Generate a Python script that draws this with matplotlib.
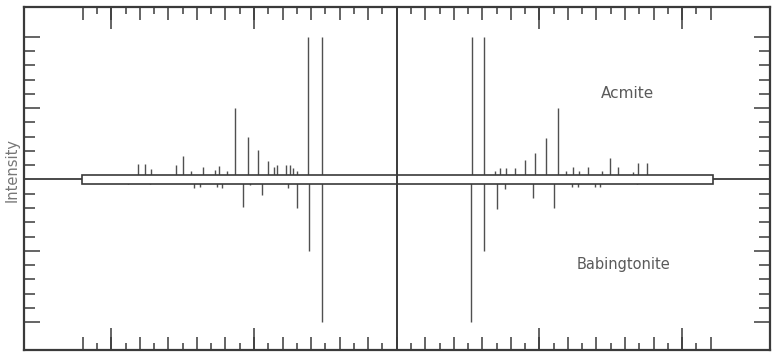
import numpy as np
import matplotlib
matplotlib.use('Agg')
import matplotlib.pyplot as plt
from matplotlib.patches import Rectangle

# Peak positions (film units from the centre line) and intensities
# Acmite lines point up, Babingtonite lines point down
acmiteLeftPos = [-18.15, -17.64, -17.22, -15.47, -14.95, -14.44, -13.55, -12.73, -12.45, -11.91,
                 -11.30, -10.42, -9.70, -9.04, -8.60, -8.41, -7.78, -7.48, -7.25, -7.01, -6.19, -5.21]
acmiteLeftInt = [1.1, 1.1, 0.75, 1.0, 1.65, 0.6, 0.9, 0.7, 0.95, 0.6,
                 5.0, 3.0, 2.05, 1.3, 0.9, 1.0, 1.0, 1.0, 0.8, 0.6, 10.0, 10.0]
acmiteRightPos = [5.28, 6.10, 6.87, 7.26, 7.68, 8.31, 8.97, 9.71, 10.46, 11.28,
                  11.86, 12.35, 12.75, 13.38, 14.39, 14.97, 15.49, 16.54, 16.91, 17.54]
acmiteRightInt = [10.0, 10.0, 0.6, 0.8, 0.8, 0.8, 1.35, 1.85, 2.9, 5.0,
                  0.6, 0.9, 0.6, 0.85, 0.6, 1.5, 0.85, 0.55, 1.15, 1.15]

babingLeftPos = [-18.81, -17.29, -14.20, -13.78, -12.61, -12.26, -10.79, -10.28, -9.42, -7.60, -7.01, -6.17, -5.21]
babingLeftInt = [0.3, 0.3, 0.6, 0.5, 0.5, 0.6, 1.95, 0.4, 1.1, 0.6, 2.0, 5.0, 10.0]
babingRightPos = [5.23, 6.10, 7.03, 7.57, 9.53, 11.00, 12.28, 12.71, 13.88, 14.27, 16.84]
babingRightInt = [10.0, 5.0, 2.1, 0.7, 1.3, 2.0, 0.5, 0.5, 0.5, 0.55, 0.3]

# Film strip and scale ticks
stripStart, stripEnd = -22.05, 22.17
xTickRange = (-22, 22)
yTickRange = (-10, 10)

lineColor = '#3a3a3a'
peakColor = '#505050'
textColor = '#5a5a5a'

fig = plt.figure(figsize=(7.73, 3.52), dpi=100)
ax = fig.add_axes([24 / 773, 2 / 352, 746 / 773, 343 / 352])
ax.set_xlim(-26.12, 26.16)
ax.set_ylim(-11.95, 12.09)

# Baseline and the film strip laid over it
ax.axhline(0, color=lineColor, lw=1.3, zorder=1)
ax.vlines(acmiteLeftPos + acmiteRightPos, 0, acmiteLeftInt + acmiteRightInt,
          color=peakColor, lw=1.0, zorder=2)
ax.vlines(babingLeftPos + babingRightPos, 0, [-v for v in babingLeftInt + babingRightInt],
          color=peakColor, lw=1.0, zorder=2)
ax.add_patch(Rectangle((stripStart, -0.31), stripEnd - stripStart, 0.62,
                       facecolor='white', edgecolor=lineColor, lw=1.2, zorder=3))
# Centre line across the whole frame
ax.axvline(0, color=lineColor, lw=1.4, zorder=4)

# Frame
for side in ax.spines.values():
    side.set_color(lineColor)
    side.set_linewidth(1.6)

# Ticks along the top and bottom: every unit, even ones longer, tens longest
ax.set_xticks(np.arange(xTickRange[0], xTickRange[1] + 1, 2))
ax.set_xticks(np.arange(xTickRange[0] + 1, xTickRange[1], 2), minor=True)
ax.tick_params(axis='x', which='major', direction='in', length=9.5, width=1.1,
               color=lineColor, top=True, bottom=True, labelbottom=False)
ax.tick_params(axis='x', which='minor', direction='in', length=5, width=1.1,
               color=lineColor, top=True, bottom=True)
for loc in ['top', 'bottom']:
    sec = ax.secondary_xaxis(loc)
    sec.set_xticks([-20, -10, 10, 20])
    sec.tick_params(axis='x', direction='in', length=16, width=1.1, color=lineColor,
                    labeltop=False, labelbottom=False)
    sec.spines[loc].set_visible(False)

# Ticks along both sides
ax.set_yticks([-10, -5, 5, 10])
ax.set_yticks([v for v in range(yTickRange[0], yTickRange[1] + 1) if v % 5 != 0], minor=True)
ax.tick_params(axis='y', which='major', direction='in', length=11.5, width=1.1,
               color=lineColor, left=True, right=True, labelleft=False)
ax.tick_params(axis='y', which='minor', direction='in', length=8, width=1.1,
               color=lineColor, left=True, right=True)

# Labels
ax.text(16.2, 6.06, 'Acmite', fontsize=11, color=textColor, ha='center', va='center')
ax.text(15.9, -5.99, 'Babingtonite', fontsize=10.5, color=textColor, ha='center', va='center')
fig.text(12 / 773, 1 - 170 / 352, 'Intensity', fontsize=10.5, color='#777777',
         rotation=90, ha='center', va='center')

fig.savefig('out.png', dpi=100)
